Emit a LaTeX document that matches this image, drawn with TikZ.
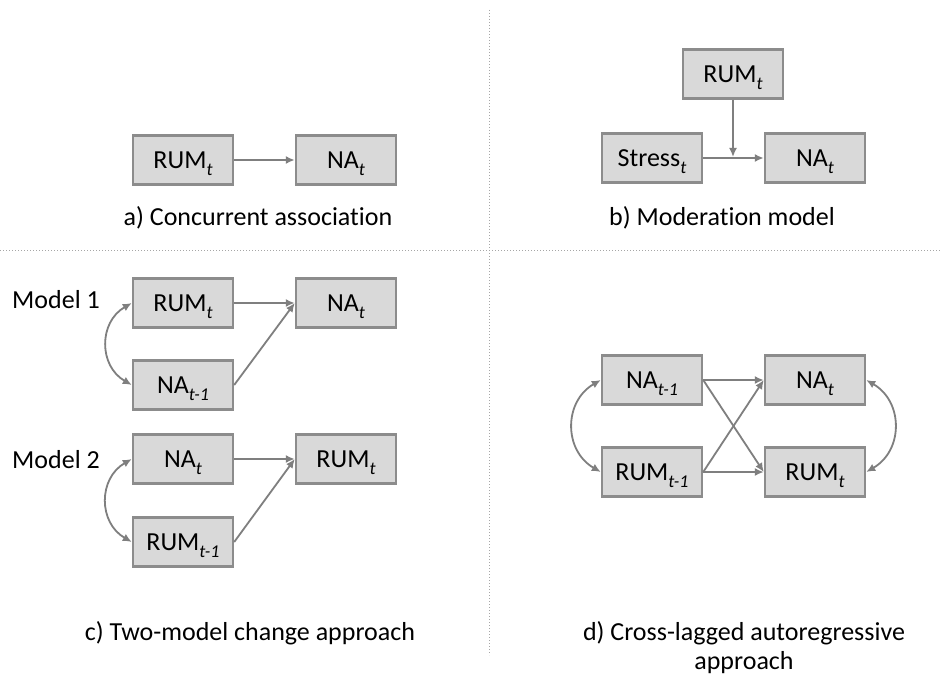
\documentclass[tikz,border=0pt]{standalone}
\usepackage{fontspec}
\setmainfont[Ligatures={NoCommon}]{Carlito}
\usetikzlibrary{arrows.meta}
\definecolor{boxfill}{HTML}{D9D9D9}
\definecolor{boxline}{HTML}{8C8C8C}
\definecolor{arrowc}{HTML}{7F7F7F}
\newcommand\sbx[1]{\raisebox{-0.26em}{\fontsize{18}{18}\selectfont\itshape #1}}
\tikzset{
  var/.style={draw=boxline, fill=boxfill, line width=2.4pt, minimum width=100pt, minimum height=49pt, inner sep=0pt, text depth=0pt, font=\fontsize{26}{30}\selectfont},
  arr/.style={draw=arrowc, line width=1.8pt, -{Latex[length=9pt,width=8pt]}},
  darr/.style={draw=arrowc, line width=1.8pt, {Latex[length=9pt,width=8pt]}-{Latex[length=9pt,width=8pt]}},
  captxt/.style={font=\fontsize{26}{29}\selectfont, align=center},
  divl/.style={draw=gray!70, line width=1pt, dotted}
}
\begin{document}
\begin{tikzpicture}[x=1pt,y=-1pt]
\useasboundingbox[fill=white] (0,0) rectangle (942,679);
% dividers
\coordinate (vt) at (489,10);
\coordinate (vb) at (489,655);
\coordinate (hl) at (0,250);
\coordinate (hr) at (942,250);
\draw[divl] (vt) -- (vb);
\draw[divl] (hl) -- (hr);
% panel a
\node[var] (a1) at (183,160) {RUM\sbx{t}};
\node[var] (a2) at (346,160) {NA\sbx{t}};
\draw[arr] (a1) -- (a2);
\node[captxt] (acap) at (258,218) {a) Concurrent association};
% panel b
\node[var] (b1) at (733,74) {RUM\sbx{t}};
\node[var] (b2) at (652,158) {Stress\sbx{t}};
\node[var] (b3) at (815,158) {NA\sbx{t}};
\draw[arr] (b2) -- (b3);
\coordinate (bm) at (733,157);
\draw[arr] (b1) -- (bm);
\node[captxt] (bcap) at (722,218) {b) Moderation model};
% panel c model 1
\node[captxt] (m1) at (56,300) {Model 1};
\node[var] (c1) at (183,303) {RUM\sbx{t}};
\node[var] (c2) at (183,385) {NA\sbx{t-1}};
\node[var] (c3) at (346,303) {NA\sbx{t}};
\draw[arr] (c1) -- (c3.west);
\draw[arr] (c2.east) -- (c3.west);
\draw[darr] (c1.west) to[out=210,in=150,looseness=1.2] (c2.west);
% panel c model 2
\node[captxt] (m2) at (56,460) {Model 2};
\node[var] (c4) at (183,459) {NA\sbx{t}};
\node[var] (c5) at (183,542) {RUM\sbx{t-1}};
\node[var] (c6) at (346,459) {RUM\sbx{t}};
\draw[arr] (c4) -- (c6.west);
\draw[arr] (c5.east) -- (c6.west);
\draw[darr] (c4.west) to[out=210,in=150,looseness=1.2] (c5.west);
\node[captxt] (ccap) at (250,633) {c) Two-model change approach};
% panel d
\node[var] (d1) at (652,380) {NA\sbx{t-1}};
\node[var] (d2) at (652,472) {RUM\sbx{t-1}};
\node[var] (d3) at (815,380) {NA\sbx{t}};
\node[var] (d4) at (815,472) {RUM\sbx{t}};
\draw[arr] (d1) -- (d3);
\draw[arr] (d2) -- (d4);
\draw[arr] (d1.east) -- (d4.west);
\draw[arr] (d2.east) -- (d3.west);
\draw[darr] (d1.west) to[out=210,in=150,looseness=1.2] (d2.west);
\draw[darr] (d3.east) to[out=-30,in=30,looseness=1.2] (d4.east);
\node[captxt] (dcap) at (744,648) {d) Cross-lagged autoregressive\\approach};
\end{tikzpicture}
\end{document}
